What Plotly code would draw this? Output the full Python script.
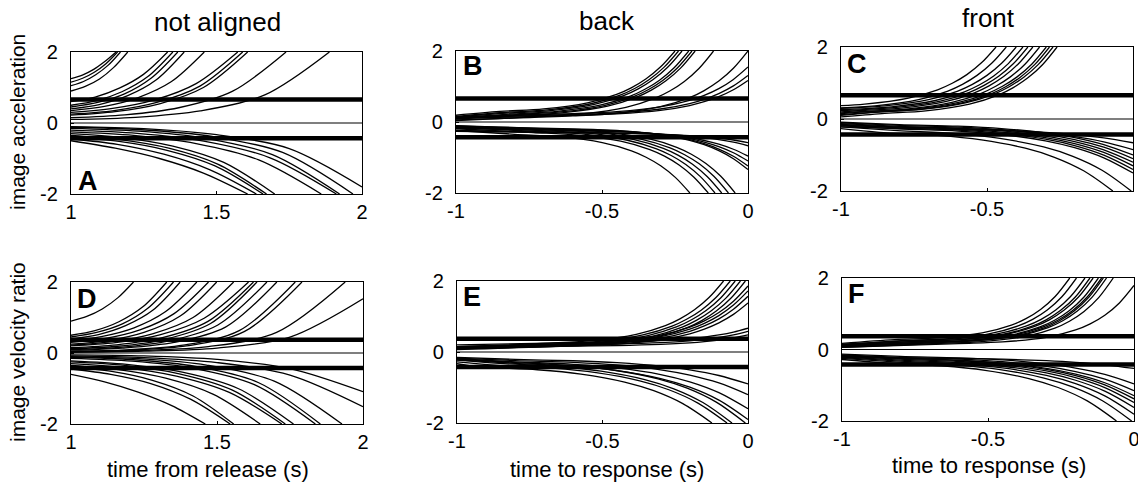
import plotly.graph_objects as go

# ---------------- data ----------------
T_NOT = [1, 1.5, 2]
T_ALN = [-1, -0.5, 0]
T_NOT_TXT = ["1", "1.5", "2"]
T_ALN_TXT = ["-1", "-0.5", "0"]
Y_TICKS = [-2, 0, 2]
Y_TICK_TXT = ["-2", "0", "2"]

ACC_BANDS = [0.66, -0.43]      # thick horizontal lines, top row
VEL_BANDS = [0.37, -0.42]      # thick horizontal lines, bottom row

# Panel A  (time from release)
A_curves = [
    ([1, 1.039, 1.078, 1.116, 1.155], [1.25, 1.35, 1.51, 1.73, 2]),
    ([1, 1.040, 1.080, 1.120, 1.160], [1.15, 1.26, 1.43, 1.67, 2]),
    ([1, 1.043, 1.085, 1.128, 1.17], [1.05, 1.17, 1.36, 1.63, 2]),
    ([1, 1.049, 1.098, 1.146, 1.195], [0.9, 1.03, 1.24, 1.56, 2]),
    ([1, 1.083, 1.166, 1.249, 1.332], [0.6, 0.73, 0.98, 1.37, 2]),
    ([1, 1.088, 1.175, 1.263, 1.35], [0.5, 0.63, 0.88, 1.30, 2]),
    ([1, 1.092, 1.184, 1.275, 1.367], [0.45, 0.58, 0.82, 1.26, 2]),
    ([1, 1.097, 1.195, 1.292, 1.389], [0.4, 0.52, 0.77, 1.21, 2]),
    ([1, 1.115, 1.229, 1.344, 1.458], [0.35, 0.47, 0.71, 1.16, 2]),
    ([1, 1.143, 1.287, 1.43, 1.573], [0.3, 0.41, 0.65, 1.11, 2]),
    ([1, 1.148, 1.295, 1.443, 1.59], [0.25, 0.35, 0.58, 1.04, 2]),
    ([1, 1.152, 1.304, 1.455, 1.607], [0.22, 0.32, 0.54, 1.0, 2]),
    ([1, 1.185, 1.37, 1.554, 1.739], [0.15, 0.23, 0.43, 0.89, 2]),
    ([1, 1.222, 1.444, 1.666, 1.888], [0.1, 0.16, 0.34, 0.79, 2]),
    ([1, 1.152, 1.304, 1.455, 1.607], [-0.5, -0.71, -1.0, -1.41, -2]),
    ([1, 1.159, 1.319, 1.478, 1.637], [-0.45, -0.6, -0.88, -1.32, -2]),
    ([1, 1.165, 1.33, 1.495, 1.66], [-0.4, -0.52, -0.77, -1.21, -2]),
    ([1, 1.168, 1.336, 1.504, 1.672], [-0.35, -0.47, -0.71, -1.16, -2]),
    ([1, 1.175, 1.35, 1.525, 1.70], [-0.3, -0.41, -0.65, -1.11, -2]),
    ([1, 1.215, 1.43, 1.645, 1.86], [-0.25, -0.35, -0.58, -1.04, -2]),
    ([1, 1.228, 1.456, 1.684, 1.912], [-0.2, -0.29, -0.51, -0.98, -2]),
    ([1, 1.231, 1.462, 1.692, 1.923], [-0.15, -0.23, -0.43, -0.89, -2]),
    ([1, 1.242, 1.485, 1.727, 1.969], [-0.12, -0.19, -0.38, -0.83, -2]),
    ([1, 1.25, 1.5, 1.75, 2], [-0.1, -0.16, -0.33, -0.72, -1.8]),
]

# Panel B  (time to response, back)
B_curves = [
    ([-1, -0.85, -0.7, -0.55, -0.45, -0.4, -0.35, -0.3, -0.25], [0.19, 0.297, 0.367, 0.539, 0.777, 0.962, 1.211, 1.547, 2]),
    ([-1, -0.838, -0.688, -0.538, -0.438, -0.388, -0.338, -0.288, -0.238], [0.16, 0.268, 0.339, 0.514, 0.756, 0.944, 1.197, 1.539, 2]),
    ([-1, -0.826, -0.676, -0.526, -0.426, -0.376, -0.326, -0.276, -0.226], [0.14, 0.249, 0.321, 0.497, 0.742, 0.933, 1.188, 1.534, 2]),
    ([-1, -0.803, -0.653, -0.503, -0.403, -0.353, -0.303, -0.253, -0.203], [0.12, 0.229, 0.302, 0.48, 0.728, 0.921, 1.179, 1.529, 2]),
    ([-1, -0.792, -0.642, -0.492, -0.392, -0.342, -0.292, -0.242, -0.192], [0.10, 0.21, 0.283, 0.464, 0.714, 0.909, 1.17, 1.523, 2]),
    ([-1, -0.781, -0.631, -0.481, -0.381, -0.331, -0.281, -0.231, -0.181], [0.08, 0.19, 0.265, 0.447, 0.70, 0.897, 1.161, 1.518, 2]),
    ([-1, -0.718, -0.568, -0.418, -0.318, -0.268, -0.218, -0.168, -0.118], [0.04, 0.151, 0.227, 0.414, 0.672, 0.873, 1.143, 1.508, 2]),
    ([-1, -0.6, -0.45, -0.3, -0.2, -0.15, -0.1, -0.05, 0], [0.06, 0.171, 0.246, 0.43, 0.686, 0.885, 1.152, 1.513, 2]),
    ([-1, -0.6, -0.45, -0.3, -0.2, -0.15, -0.1, -0.05, 0], [0.14, 0.236, 0.29, 0.423, 0.606, 0.749, 0.941, 1.2, 1.55]),
    ([-1, -0.6, -0.45, -0.3, -0.2, -0.15, -0.1, -0.05, 0], [0.12, 0.211, 0.256, 0.366, 0.52, 0.64, 0.80, 1.017, 1.31]),
    ([-1, -0.6, -0.45, -0.3, -0.2, -0.15, -0.1, -0.05, 0], [0.10, 0.187, 0.228, 0.327, 0.464, 0.571, 0.714, 0.908, 1.17]),
    ([-1, -0.799, -0.649, -0.499, -0.399, -0.349, -0.299, -0.249, -0.199], [-0.24, -0.346, -0.414, -0.581, -0.812, -0.992, -1.233, -1.56, -2]),
    ([-1, -0.736, -0.586, -0.436, -0.336, -0.286, -0.236, -0.186, -0.136], [-0.19, -0.297, -0.367, -0.539, -0.777, -0.962, -1.211, -1.547, -2]),
    ([-1, -0.713, -0.563, -0.413, -0.313, -0.263, -0.213, -0.163, -0.113], [-0.16, -0.268, -0.339, -0.514, -0.756, -0.944, -1.197, -1.539, -2]),
    ([-1, -0.69, -0.54, -0.39, -0.29, -0.24, -0.19, -0.14, -0.09], [-0.14, -0.249, -0.321, -0.497, -0.742, -0.933, -1.188, -1.534, -2]),
    ([-1, -0.667, -0.517, -0.367, -0.267, -0.217, -0.167, -0.117, -0.067], [-0.12, -0.229, -0.302, -0.48, -0.728, -0.921, -1.179, -1.529, -2]),
    ([-1, -0.644, -0.494, -0.344, -0.244, -0.194, -0.144, -0.094, -0.044], [-0.10, -0.21, -0.283, -0.464, -0.714, -0.909, -1.17, -1.523, -2]),
    ([-1, -0.6, -0.45, -0.3, -0.2, -0.15, -0.1, -0.05, 0], [-0.26, -0.308, -0.319, -0.346, -0.384, -0.414, -0.454, -0.507, -0.58]),
    ([-1, -0.6, -0.45, -0.3, -0.2, -0.15, -0.1, -0.05, 0], [-0.24, -0.291, -0.306, -0.344, -0.397, -0.439, -0.494, -0.569, -0.67]),
    ([-1, -0.6, -0.45, -0.3, -0.2, -0.15, -0.1, -0.05, 0], [-0.18, -0.24, -0.27, -0.342, -0.443, -0.521, -0.626, -0.768, -0.96]),
    ([-1, -0.6, -0.45, -0.3, -0.2, -0.15, -0.1, -0.05, 0], [-0.16, -0.224, -0.26, -0.349, -0.471, -0.566, -0.694, -0.867, -1.1]),
    ([-1, -0.6, -0.45, -0.3, -0.2, -0.15, -0.1, -0.05, 0], [-0.14, -0.209, -0.251, -0.355, -0.499, -0.611, -0.762, -0.965, -1.24]),
    ([-1, -0.6, -0.45, -0.3, -0.2, -0.15, -0.1, -0.05, 0], [-0.12, -0.192, -0.239, -0.355, -0.515, -0.64, -0.808, -1.034, -1.34]),
]

# Panel C  (time to response, front)
C_curves = [
    ([-1.069, -0.919, -0.769, -0.669, -0.619, -0.569, -0.519, -0.469], [0.346, 0.414, 0.581, 0.812, 0.992, 1.233, 1.56, 2]),
    ([-1.034, -0.884, -0.734, -0.634, -0.584, -0.534, -0.484, -0.434], [0.297, 0.367, 0.539, 0.777, 0.962, 1.211, 1.547, 2]),
    ([-1.0, -0.85, -0.7, -0.6, -0.55, -0.5, -0.45, -0.4], [0.297, 0.367, 0.539, 0.777, 0.962, 1.211, 1.547, 2]),
    ([-1, -0.977, -0.827, -0.677, -0.577, -0.527, -0.477, -0.427, -0.377], [0.26, 0.268, 0.339, 0.514, 0.756, 0.944, 1.197, 1.539, 2]),
    ([-1, -0.96, -0.81, -0.66, -0.56, -0.51, -0.46, -0.41, -0.36], [0.23, 0.249, 0.321, 0.497, 0.742, 0.933, 1.188, 1.534, 2]),
    ([-1, -0.943, -0.793, -0.643, -0.543, -0.493, -0.443, -0.393, -0.343], [0.2, 0.229, 0.302, 0.48, 0.728, 0.921, 1.179, 1.529, 2]),
    ([-1, -0.92, -0.77, -0.62, -0.52, -0.47, -0.42, -0.37, -0.32], [0.17, 0.21, 0.283, 0.464, 0.714, 0.909, 1.17, 1.523, 2]),
    ([-1, -0.897, -0.747, -0.597, -0.497, -0.447, -0.397, -0.347, -0.297], [0.15, 0.21, 0.283, 0.464, 0.714, 0.909, 1.17, 1.523, 2]),
    ([-1, -0.886, -0.736, -0.586, -0.486, -0.436, -0.386, -0.336, -0.286], [0.12, 0.19, 0.265, 0.447, 0.70, 0.897, 1.161, 1.518, 2]),
    ([-1, -0.874, -0.724, -0.574, -0.474, -0.424, -0.374, -0.324, -0.274], [0.1, 0.19, 0.265, 0.447, 0.70, 0.897, 1.161, 1.518, 2]),
    ([-1, -0.86, -0.71, -0.56, -0.46, -0.41, -0.36, -0.31, -0.26], [0.06, 0.151, 0.227, 0.414, 0.672, 0.873, 1.143, 1.508, 2]),
    ([-1, -0.869, -0.669, -0.519, -0.369, -0.269, -0.169, -0.069], [-0.27, -0.37, -0.455, -0.581, -0.812, -1.063, -1.439, -2]),
    ([-1, -0.806, -0.606, -0.456, -0.306, -0.206, -0.106, -0.006], [-0.22, -0.322, -0.409, -0.539, -0.777, -1.036, -1.423, -2]),
    ([-1, -0.8, -0.6, -0.45, -0.3, -0.2, -0.1, 0], [-0.19, -0.272, -0.336, -0.431, -0.605, -0.795, -1.078, -1.5]),
    ([-1, -0.8, -0.6, -0.45, -0.3, -0.2, -0.1, 0], [-0.17, -0.249, -0.309, -0.398, -0.561, -0.739, -1.004, -1.4]),
    ([-1, -0.8, -0.6, -0.45, -0.3, -0.2, -0.1, 0], [-0.15, -0.226, -0.282, -0.365, -0.517, -0.683, -0.93, -1.3]),
    ([-1, -0.8, -0.6, -0.45, -0.3, -0.2, -0.1, 0], [-0.13, -0.203, -0.255, -0.332, -0.473, -0.627, -0.857, -1.2]),
    ([-1, -0.8, -0.6, -0.45, -0.3, -0.2, -0.1, 0], [-0.11, -0.179, -0.227, -0.298, -0.429, -0.571, -0.783, -1.1]),
    ([-1, -0.8, -0.6, -0.45, -0.3, -0.2, -0.1, 0], [-0.09, -0.156, -0.2, -0.265, -0.385, -0.515, -0.71, -1.0]),
    ([-1, -0.8, -0.6, -0.45, -0.3, -0.2, -0.1, 0], [-0.17, -0.227, -0.259, -0.307, -0.396, -0.492, -0.636, -0.85]),
    ([-1, -0.8, -0.6, -0.45, -0.3, -0.2, -0.1, 0], [-0.22, -0.267, -0.287, -0.318, -0.373, -0.434, -0.525, -0.66]),
]

# Panel D  (velocity ratio, time from release)
D_curves = [
    ([1, 1.054, 1.107, 1.161, 1.214], [0.9, 1.03, 1.24, 1.56, 2]),
    ([1, 1.082, 1.164, 1.246, 1.328], [0.5, 0.63, 0.88, 1.30, 2]),
    ([1, 1.088, 1.176, 1.263, 1.351], [0.45, 0.58, 0.82, 1.26, 2]),
    ([1, 1.094, 1.187, 1.281, 1.374], [0.4, 0.52, 0.77, 1.21, 2]),
    ([1, 1.108, 1.216, 1.323, 1.431], [0.35, 0.47, 0.71, 1.16, 2]),
    ([1, 1.118, 1.236, 1.353, 1.471], [0.3, 0.41, 0.65, 1.11, 2]),
    ([1, 1.125, 1.25, 1.374, 1.499], [0.25, 0.35, 0.58, 1.04, 2]),
    ([1, 1.139, 1.279, 1.418, 1.557], [0.22, 0.32, 0.54, 1.0, 2]),
    ([1, 1.152, 1.304, 1.456, 1.608], [0.2, 0.29, 0.51, 0.98, 2]),
    ([1, 1.156, 1.313, 1.469, 1.625], [0.15, 0.23, 0.43, 0.89, 2]),
    ([1, 1.159, 1.319, 1.478, 1.637], [0.12, 0.19, 0.38, 0.83, 2]),
    ([1, 1.168, 1.336, 1.503, 1.671], [0.1, 0.16, 0.34, 0.79, 2]),
    ([1, 1.176, 1.353, 1.529, 1.705], [0.08, 0.14, 0.30, 0.73, 2]),
    ([1, 1.192, 1.384, 1.576, 1.768], [0.05, 0.09, 0.22, 0.63, 2]),
    ([1, 1.198, 1.396, 1.593, 1.791], [0.04, 0.08, 0.2, 0.6, 2]),
    ([1, 1.235, 1.47, 1.704, 1.939], [0.03, 0.07, 0.18, 0.58, 2]),
    ([1, 1.25, 1.5, 1.75, 2], [0.02, 0.05, 0.14, 0.45, 1.53]),
    ([1, 1.115, 1.23, 1.345, 1.46], [-0.6, -0.81, -1.1, -1.48, -2]),
    ([1, 1.136, 1.273, 1.409, 1.545], [-0.45, -0.6, -0.86, -1.3, -2]),
    ([1, 1.139, 1.279, 1.418, 1.557], [-0.4, -0.52, -0.77, -1.21, -2]),
    ([1, 1.162, 1.324, 1.486, 1.648], [-0.35, -0.47, -0.71, -1.16, -2]),
    ([1, 1.181, 1.361, 1.542, 1.722], [-0.3, -0.41, -0.65, -1.11, -2]),
    ([1, 1.184, 1.367, 1.551, 1.734], [-0.25, -0.35, -0.58, -1.04, -2]),
    ([1, 1.191, 1.381, 1.572, 1.762], [-0.22, -0.32, -0.54, -1.0, -2]),
    ([1, 1.209, 1.419, 1.628, 1.837], [-0.15, -0.23, -0.43, -0.89, -2]),
    ([1, 1.214, 1.427, 1.641, 1.854], [-0.12, -0.19, -0.38, -0.83, -2]),
    ([1, 1.232, 1.464, 1.696, 1.928], [-0.1, -0.16, -0.34, -0.79, -2]),
    ([1, 1.25, 1.5, 1.75, 2], [-0.08, -0.13, -0.27, -0.62, -1.51]),
    ([1, 1.25, 1.5, 1.75, 2], [-0.05, -0.08, -0.18, -0.44, -1.09]),
]

# Panel E  (velocity ratio, back)
E_curves = [
    ([-1, -0.684, -0.534, -0.384, -0.284, -0.234, -0.184, -0.134, -0.084], [0.15, 0.249, 0.321, 0.497, 0.742, 0.933, 1.188, 1.534, 2]),
    ([-1, -0.661, -0.511, -0.361, -0.261, -0.211, -0.161, -0.111, -0.061], [0.13, 0.229, 0.302, 0.48, 0.728, 0.921, 1.179, 1.529, 2]),
    ([-1, -0.644, -0.494, -0.344, -0.244, -0.194, -0.144, -0.094, -0.044], [0.11, 0.21, 0.283, 0.464, 0.714, 0.909, 1.17, 1.523, 2]),
    ([-1, -0.626, -0.476, -0.326, -0.226, -0.176, -0.126, -0.076, -0.026], [0.09, 0.19, 0.265, 0.447, 0.70, 0.897, 1.161, 1.518, 2]),
    ([-1, -0.609, -0.459, -0.309, -0.209, -0.159, -0.109, -0.059, -0.009], [0.07, 0.171, 0.246, 0.43, 0.686, 0.885, 1.152, 1.513, 2]),
    ([-1, -0.6, -0.45, -0.3, -0.2, -0.15, -0.1, -0.05, 0], [0.15, 0.245, 0.311, 0.474, 0.70, 0.876, 1.111, 1.43, 1.86]),
    ([-1, -0.6, -0.45, -0.3, -0.2, -0.15, -0.1, -0.05, 0], [0.13, 0.222, 0.283, 0.434, 0.644, 0.807, 1.025, 1.321, 1.72]),
    ([-1, -0.6, -0.45, -0.3, -0.2, -0.15, -0.1, -0.05, 0], [0.11, 0.198, 0.254, 0.393, 0.584, 0.734, 0.934, 1.205, 1.57]),
    ([-1, -0.6, -0.45, -0.3, -0.2, -0.15, -0.1, -0.05, 0], [0.09, 0.173, 0.223, 0.345, 0.513, 0.645, 0.821, 1.059, 1.38]),
    ([-1, -0.6, -0.45, -0.3, -0.2, -0.15, -0.1, -0.05, 0], [0.2, 0.261, 0.278, 0.319, 0.376, 0.421, 0.481, 0.561, 0.67]),
    ([-1, -0.6, -0.45, -0.3, -0.2, -0.15, -0.1, -0.05, 0], [0.15, 0.21, 0.225, 0.263, 0.314, 0.355, 0.409, 0.482, 0.58]),
    ([-1, -0.6, -0.45, -0.3, -0.2, -0.15, -0.1, -0.05, 0], [0.11, 0.169, 0.181, 0.213, 0.256, 0.29, 0.336, 0.397, 0.48]),
    ([-1, -0.924, -0.724, -0.574, -0.424, -0.324, -0.224, -0.124], [-0.33, -0.418, -0.5, -0.622, -0.847, -1.091, -1.456, -2]),
    ([-1, -0.872, -0.672, -0.522, -0.372, -0.272, -0.172, -0.072], [-0.28, -0.37, -0.455, -0.581, -0.812, -1.063, -1.439, -2]),
    ([-1, -0.855, -0.655, -0.505, -0.355, -0.255, -0.155, -0.055], [-0.23, -0.322, -0.409, -0.539, -0.777, -1.036, -1.423, -2]),
    ([-1, -0.809, -0.609, -0.459, -0.309, -0.209, -0.109, -0.009], [-0.2, -0.293, -0.382, -0.514, -0.756, -1.019, -1.413, -2]),
    ([-1, -0.8, -0.6, -0.45, -0.3, -0.2, -0.1, 0], [-0.22, -0.318, -0.4, -0.522, -0.747, -0.991, -1.356, -1.9]),
    ([-1, -0.8, -0.6, -0.45, -0.3, -0.2, -0.1, 0], [-0.19, -0.277, -0.346, -0.448, -0.635, -0.84, -1.145, -1.6]),
    ([-1, -0.8, -0.6, -0.45, -0.3, -0.2, -0.1, 0], [-0.17, -0.241, -0.291, -0.365, -0.501, -0.649, -0.87, -1.2]),
    ([-1, -0.8, -0.6, -0.45, -0.3, -0.2, -0.1, 0], [-0.15, -0.21, -0.246, -0.299, -0.397, -0.503, -0.662, -0.9]),
]

# Panel F  (velocity ratio, front)
F_curves = [
    ([-1, -0.82, -0.67, -0.52, -0.42, -0.37, -0.32, -0.27, -0.22], [0.17, 0.276, 0.325, 0.464, 0.682, 0.863, 1.12, 1.484, 2]),
    ([-1, -0.797, -0.647, -0.497, -0.397, -0.347, -0.297, -0.247, -0.197], [0.14, 0.247, 0.297, 0.437, 0.66, 0.843, 1.105, 1.475, 2]),
    ([-1, -0.768, -0.618, -0.468, -0.368, -0.318, -0.268, -0.218, -0.168], [0.14, 0.247, 0.297, 0.437, 0.66, 0.843, 1.105, 1.475, 2]),
    ([-1, -0.751, -0.601, -0.451, -0.351, -0.301, -0.251, -0.201, -0.151], [0.12, 0.227, 0.277, 0.42, 0.645, 0.83, 1.095, 1.469, 2]),
    ([-1, -0.74, -0.59, -0.44, -0.34, -0.29, -0.24, -0.19, -0.14], [0.12, 0.227, 0.277, 0.42, 0.645, 0.83, 1.095, 1.469, 2]),
    ([-1, -0.722, -0.572, -0.422, -0.322, -0.272, -0.222, -0.172, -0.122], [0.1, 0.207, 0.258, 0.402, 0.63, 0.817, 1.085, 1.463, 2]),
    ([-1, -0.711, -0.561, -0.411, -0.311, -0.261, -0.211, -0.161, -0.111], [0.1, 0.207, 0.258, 0.402, 0.63, 0.817, 1.085, 1.463, 2]),
    ([-1, -0.705, -0.555, -0.405, -0.305, -0.255, -0.205, -0.155, -0.105], [0.08, 0.188, 0.239, 0.384, 0.614, 0.804, 1.074, 1.457, 2]),
    ([-1, -0.694, -0.544, -0.394, -0.294, -0.244, -0.194, -0.144, -0.094], [0.08, 0.188, 0.239, 0.384, 0.614, 0.804, 1.074, 1.457, 2]),
    ([-1, -0.671, -0.521, -0.371, -0.271, -0.221, -0.171, -0.121, -0.071], [0.06, 0.168, 0.22, 0.367, 0.599, 0.791, 1.064, 1.451, 2]),
    ([-1, -0.6, -0.45, -0.3, -0.2, -0.15, -0.1, -0.05, 0], [0.06, 0.165, 0.211, 0.341, 0.548, 0.718, 0.96, 1.303, 1.79]),
    ([-1, -0.86, -0.66, -0.51, -0.36, -0.26, -0.16, -0.06], [-0.28, -0.37, -0.455, -0.581, -0.812, -1.063, -1.439, -2]),
    ([-1, -0.808, -0.608, -0.458, -0.308, -0.208, -0.108, -0.008], [-0.25, -0.351, -0.437, -0.564, -0.798, -1.052, -1.432, -2]),
    ([-1, -0.8, -0.6, -0.45, -0.3, -0.2, -0.1, 0], [-0.23, -0.324, -0.401, -0.516, -0.727, -0.956, -1.299, -1.81]),
    ([-1, -0.8, -0.6, -0.45, -0.3, -0.2, -0.1, 0], [-0.21, -0.297, -0.366, -0.468, -0.655, -0.86, -1.165, -1.62]),
    ([-1, -0.8, -0.6, -0.45, -0.3, -0.2, -0.1, 0], [-0.19, -0.272, -0.335, -0.428, -0.599, -0.786, -1.064, -1.48]),
    ([-1, -0.8, -0.6, -0.45, -0.3, -0.2, -0.1, 0], [-0.17, -0.248, -0.307, -0.395, -0.555, -0.73, -0.991, -1.38]),
    ([-1, -0.8, -0.6, -0.45, -0.3, -0.2, -0.1, 0], [-0.17, -0.245, -0.299, -0.38, -0.528, -0.689, -0.93, -1.29]),
    ([-1, -0.8, -0.6, -0.45, -0.3, -0.2, -0.1, 0], [-0.15, -0.22, -0.268, -0.34, -0.472, -0.616, -0.83, -1.15]),
    ([-1, -0.8, -0.6, -0.45, -0.3, -0.2, -0.1, 0], [-0.13, -0.193, -0.233, -0.292, -0.401, -0.519, -0.696, -0.96]),
    ([-1, -0.8, -0.6, -0.45, -0.3, -0.2, -0.1, 0], [-0.2, -0.233, -0.248, -0.271, -0.313, -0.359, -0.428, -0.53]),
]

COL_TITLES = ["not aligned", "back", "front"]
ROW_TITLES = ["image acceleration", "image velocity ratio"]
X_TITLES = ["time from release (s)", "time to response (s)", "time to response (s)"]
LETTERS = ["A", "B", "C", "D", "E", "F"]

# ---------------- layout geometry (pixels) ----------------
W, H = 1138, 486
FONT = "Liberation Sans, Arial, Helvetica, sans-serif"

# (left, right, top, bottom) of each plot box in pixels
boxes = [
    (71, 362, 52, 194), (456, 748, 51, 193), (841, 1133, 47, 191),
    (71, 363, 282, 424), (457, 748, 281, 423), (842, 1134, 278, 421),
]
panels = [
    (A_curves, ACC_BANDS, (1, 2), T_NOT, T_NOT_TXT),
    (B_curves, ACC_BANDS, (-1, 0), T_ALN, T_ALN_TXT),
    (C_curves, ACC_BANDS, (-1, 0), T_ALN[:2], T_ALN_TXT[:2]),
    (D_curves, VEL_BANDS, (1, 2), T_NOT, T_NOT_TXT),
    (E_curves, VEL_BANDS, (-1, 0), T_ALN, T_ALN_TXT),
    (F_curves, VEL_BANDS, (-1, 0), T_ALN, T_ALN_TXT),
]

fig = go.Figure()
layout = {}
for i, ((curves, bands, xr, tv, tt), (l, r, t, b)) in enumerate(zip(panels, boxes)):
    n = i + 1
    xa = "x" if n == 1 else f"x{n}"
    ya = "y" if n == 1 else f"y{n}"
    fig.add_trace(go.Scatter(x=list(xr), y=[0, 0], mode="lines", xaxis=xa, yaxis=ya,
                             line=dict(color="black", width=1.1), hoverinfo="skip", showlegend=False))
    for cx, cy in curves:
        fig.add_trace(go.Scatter(x=cx, y=cy, mode="lines", xaxis=xa, yaxis=ya,
                                 line=dict(color="black", width=1.3, shape="spline", smoothing=0.9),
                                 hoverinfo="skip", showlegend=False))
    for v in bands:
        fig.add_trace(go.Scatter(x=list(xr), y=[v, v], mode="lines", xaxis=xa, yaxis=ya,
                                 line=dict(color="black", width=4.5), hoverinfo="skip", showlegend=False))
    common = dict(showline=True, mirror=True, linecolor="black", linewidth=1.2,
                  showgrid=False, zeroline=False, ticks="inside", ticklen=3,
                  tickcolor="black", tickfont=dict(family=FONT, size=20, color="black"),
                  fixedrange=True, automargin=False, ticklabeloverflow="allow")
    layout["xaxis" if n == 1 else f"xaxis{n}"] = dict(
        common, domain=[l / W, r / W], anchor=ya, range=list(xr),
        tickvals=tv, ticktext=tt, ticklabelstandoff=0)
    layout["yaxis" if n == 1 else f"yaxis{n}"] = dict(
        common, domain=[1 - b / H, 1 - t / H], anchor=xa, range=[-2, 2],
        tickvals=Y_TICKS, ticktext=Y_TICK_TXT, ticklabelstandoff=8)

ann = []
def txt(s, px, py, size, angle=0, bold=False):
    ann.append(dict(text=f"<b>{s}</b>" if bold else s, x=px / W, y=1 - py / H,
                    xref="paper", yref="paper", xanchor="center", yanchor="middle",
                    showarrow=False, textangle=angle,
                    font=dict(family=FONT, size=size, color="black")))

for s, px, py in zip(COL_TITLES, [217, 607, 988], [22, 21, 18]):
    txt(s, px, py, 26)
for s, py in zip(ROW_TITLES, [122, 352]):
    txt(s, 17, py, 21, angle=-90)
for s, px, py in zip(X_TITLES, [208, 607, 989], [469, 469, 465]):
    txt(s, px, py, 22)
for s, (px, py) in zip(LETTERS, [(88, 181), (473, 66), (857, 64), (87, 299), (472, 297), (856, 294)]):
    txt(s, px, py, 27, bold=True)

fig.update_layout(width=W, height=H, margin=dict(l=0, r=0, t=0, b=0, autoexpand=False),
                  paper_bgcolor="white", plot_bgcolor="white",
                  showlegend=False, annotations=ann, **layout)
fig.write_html("out.html")
